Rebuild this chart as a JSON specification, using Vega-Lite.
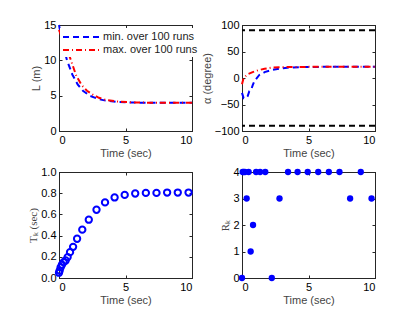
{
  "$schema": "https://vega.github.io/schema/vega-lite/v6.json",
  "padding": {"left": 27, "top": 18, "right": 5, "bottom": 5},
  "background": "white",
  "columns": 2,
  "spacing": {"row": 41, "column": 50},
  "bounds": "flush",
  "resolve": {"scale": {"color": "independent", "strokeDash": "independent"}, "legend": {"color": "independent", "strokeDash": "independent"}},
  "datasets": {
    "L": [
      {"t": 0, "v": 15, "s": "min. over 100 runs"},
      {"t": 0.15, "v": 13.5, "s": "min. over 100 runs"},
      {"t": 0.35, "v": 11.8, "s": "min. over 100 runs"},
      {"t": 0.6, "v": 10, "s": "min. over 100 runs"},
      {"t": 1.0, "v": 8.0, "s": "min. over 100 runs"},
      {"t": 1.4, "v": 6.6, "s": "min. over 100 runs"},
      {"t": 1.8, "v": 5.7, "s": "min. over 100 runs"},
      {"t": 2.3, "v": 5.0, "s": "min. over 100 runs"},
      {"t": 3.0, "v": 4.5, "s": "min. over 100 runs"},
      {"t": 3.5, "v": 4.3, "s": "min. over 100 runs"},
      {"t": 4.5, "v": 4.1, "s": "min. over 100 runs"},
      {"t": 5.5, "v": 4.02, "s": "min. over 100 runs"},
      {"t": 7, "v": 4.0, "s": "min. over 100 runs"},
      {"t": 10, "v": 4.0, "s": "min. over 100 runs"},
      {"t": 0, "v": 14.3, "s": "max. over 100 runs"},
      {"t": 0.2, "v": 13.3, "s": "max. over 100 runs"},
      {"t": 0.4, "v": 12.6, "s": "max. over 100 runs"},
      {"t": 0.9, "v": 10, "s": "max. over 100 runs"},
      {"t": 1.3, "v": 7.8, "s": "max. over 100 runs"},
      {"t": 1.7, "v": 6.5, "s": "max. over 100 runs"},
      {"t": 2.1, "v": 5.7, "s": "max. over 100 runs"},
      {"t": 2.5, "v": 5.2, "s": "max. over 100 runs"},
      {"t": 3.0, "v": 4.7, "s": "max. over 100 runs"},
      {"t": 3.5, "v": 4.4, "s": "max. over 100 runs"},
      {"t": 4.5, "v": 4.15, "s": "max. over 100 runs"},
      {"t": 5.5, "v": 4.05, "s": "max. over 100 runs"},
      {"t": 7, "v": 4.0, "s": "max. over 100 runs"},
      {"t": 10, "v": 4.0, "s": "max. over 100 runs"}
    ],
    "A": [
      {"t": 0, "v": -28, "s": "min"},
      {"t": 0.12, "v": -38, "s": "min"},
      {"t": 0.3, "v": -38, "s": "min"},
      {"t": 0.43, "v": -34, "s": "min"},
      {"t": 0.55, "v": -25, "s": "min"},
      {"t": 0.68, "v": -23, "s": "min"},
      {"t": 0.8, "v": -14, "s": "min"},
      {"t": 0.93, "v": -6, "s": "min"},
      {"t": 1.3, "v": 5.7, "s": "min"},
      {"t": 1.7, "v": 11, "s": "min"},
      {"t": 2.2, "v": 15, "s": "min"},
      {"t": 2.8, "v": 17.5, "s": "min"},
      {"t": 3.4, "v": 19.5, "s": "min"},
      {"t": 4.5, "v": 20.5, "s": "min"},
      {"t": 6, "v": 21, "s": "min"},
      {"t": 10, "v": 21, "s": "min"},
      {"t": 0, "v": -12, "s": "max"},
      {"t": 0.12, "v": 0, "s": "max"},
      {"t": 0.43, "v": 7, "s": "max"},
      {"t": 0.8, "v": 11, "s": "max"},
      {"t": 1.2, "v": 14.5, "s": "max"},
      {"t": 1.7, "v": 17.5, "s": "max"},
      {"t": 2.2, "v": 19.5, "s": "max"},
      {"t": 3, "v": 20.5, "s": "max"},
      {"t": 5, "v": 21, "s": "max"},
      {"t": 10, "v": 21, "s": "max"}
    ],
    "B": [{"bound": 90}, {"bound": -90}],
    "K": [
      {"t": 0, "T": 0.05, "R": 0},
      {"t": 0.05, "T": 0.07, "R": 4},
      {"t": 0.12, "T": 0.1, "R": 4},
      {"t": 0.22, "T": 0.125, "R": 4},
      {"t": 0.35, "T": 0.15, "R": 3},
      {"t": 0.5, "T": 0.165, "R": 4},
      {"t": 0.65, "T": 0.197, "R": 1},
      {"t": 0.83, "T": 0.244, "R": 2},
      {"t": 1.06, "T": 0.294, "R": 4},
      {"t": 1.36, "T": 0.37, "R": 4},
      {"t": 1.75, "T": 0.456, "R": 4},
      {"t": 2.24, "T": 0.55, "R": 0},
      {"t": 2.82, "T": 0.644, "R": 3},
      {"t": 3.46, "T": 0.713, "R": 4},
      {"t": 4.18, "T": 0.76, "R": 4},
      {"t": 4.94, "T": 0.784, "R": 4},
      {"t": 5.73, "T": 0.797, "R": 4},
      {"t": 6.53, "T": 0.803, "R": 4},
      {"t": 7.33, "T": 0.803, "R": 4},
      {"t": 8.13, "T": 0.806, "R": 3},
      {"t": 8.93, "T": 0.806, "R": 4},
      {"t": 9.74, "T": 0.806, "R": 3}
    ]
  },
  "concat": [
    {
      "width": 133, "height": 106,
      "data": {"name": "L"},
      "resolve": {"axis": {"x": "independent", "y": "independent"}},
      "layer": [
        {
          "mark": {"type": "line", "strokeWidth": 2},
          "encoding": {
            "x": {"field": "t", "type": "quantitative", "title": "Time (sec)", "scale": {"domain": [0, 10], "nice": false}, "axis": {"orient": "bottom", "values": [0, 5, 10]}},
            "y": {"field": "v", "type": "quantitative", "title": "L (m)", "scale": {"domain": [0, 15], "nice": false}, "axis": {"orient": "left", "values": [0, 5, 10, 15]}},
            "color": {"field": "s", "type": "nominal", "scale": {"domain": ["min. over 100 runs", "max. over 100 runs"], "range": ["#0000ff", "#ff0000"]}, "legend": {"title": null, "orient": "none", "legendX": 1, "legendY": 3}},
            "strokeDash": {"field": "s", "type": "nominal", "scale": {"domain": ["min. over 100 runs", "max. over 100 runs"], "range": [[6, 4], [6, 3, 1, 3]]}, "legend": {"title": null, "orient": "none", "legendX": 1, "legendY": 3}}
          }
        },
        {
          "mark": {"type": "point", "opacity": 0},
          "encoding": {
            "x": {"field": "t", "type": "quantitative", "axis": {"orient": "top", "values": [0, 5, 10], "labels": false, "title": null}},
            "y": {"field": "v", "type": "quantitative", "axis": {"orient": "right", "values": [0, 5, 10, 15], "labels": false, "title": null}}
          }
        }
      ]
    },
    {
      "width": 133, "height": 106,
      "resolve": {"axis": {"x": "independent", "y": "independent"}},
      "layer": [
        {
          "data": {"name": "A"},
          "mark": {"type": "line", "strokeWidth": 2},
          "encoding": {
            "x": {"field": "t", "type": "quantitative", "title": "Time (sec)", "scale": {"domain": [0, 10], "nice": false}, "axis": {"orient": "bottom", "values": [0, 5, 10]}},
            "y": {"field": "v", "type": "quantitative", "title": "α (degree)", "scale": {"domain": [-100, 100], "nice": false}, "axis": {"orient": "left", "values": [-100, -50, 0, 50, 100]}},
            "color": {"field": "s", "type": "nominal", "scale": {"domain": ["min", "max"], "range": ["#0000ff", "#ff0000"]}, "legend": null},
            "strokeDash": {"field": "s", "type": "nominal", "scale": {"domain": ["min", "max"], "range": [[6, 4], [6, 3, 1, 3]]}, "legend": null}
          }
        },
        {
          "data": {"name": "B"},
          "mark": {"type": "rule", "color": "black", "strokeWidth": 2, "strokeDash": [6, 4]},
          "encoding": {"y": {"field": "bound", "type": "quantitative", "axis": null}}
        },
        {
          "data": {"name": "A"},
          "mark": {"type": "point", "opacity": 0},
          "encoding": {
            "x": {"field": "t", "type": "quantitative", "axis": {"orient": "top", "values": [0, 5, 10], "labels": false, "title": null}},
            "y": {"field": "v", "type": "quantitative", "axis": {"orient": "right", "values": [-100, -50, 0, 50, 100], "labels": false, "title": null}}
          }
        }
      ]
    },
    {
      "width": 133, "height": 106,
      "data": {"name": "K"},
      "resolve": {"axis": {"x": "independent", "y": "independent"}},
      "layer": [
        {
          "mark": {"type": "point", "filled": false, "color": "#0000ff", "strokeWidth": 2, "size": 40, "opacity": 1},
          "encoding": {
            "x": {"field": "t", "type": "quantitative", "title": "Time (sec)", "scale": {"domain": [0, 10], "nice": false}, "axis": {"orient": "bottom", "values": [0, 5, 10]}},
            "y": {"field": "T", "type": "quantitative", "title": "Tₖ (sec)", "scale": {"domain": [0, 1], "nice": false}, "axis": {"orient": "left", "values": [0, 0.2, 0.4, 0.6, 0.8, 1], "titleFont": "Liberation Serif"}}
          }
        },
        {
          "mark": {"type": "point", "opacity": 0},
          "encoding": {
            "x": {"field": "t", "type": "quantitative", "axis": {"orient": "top", "values": [0, 5, 10], "labels": false, "title": null}},
            "y": {"field": "T", "type": "quantitative", "axis": {"orient": "right", "values": [0, 0.2, 0.4, 0.6, 0.8, 1], "labels": false, "title": null}}
          }
        }
      ]
    },
    {
      "width": 133, "height": 106,
      "data": {"name": "K"},
      "resolve": {"axis": {"x": "independent", "y": "independent"}},
      "layer": [
        {
          "mark": {"type": "point", "filled": true, "color": "#0000ff", "size": 40, "opacity": 1},
          "encoding": {
            "x": {"field": "t", "type": "quantitative", "title": "Time (sec)", "scale": {"domain": [0, 10], "nice": false}, "axis": {"orient": "bottom", "values": [0, 5, 10]}},
            "y": {"field": "R", "type": "quantitative", "title": "Rₖ", "scale": {"domain": [0, 4], "nice": false}, "axis": {"orient": "left", "values": [0, 1, 2, 3, 4], "titleFont": "Liberation Serif"}}
          }
        },
        {
          "mark": {"type": "point", "opacity": 0},
          "encoding": {
            "x": {"field": "t", "type": "quantitative", "axis": {"orient": "top", "values": [0, 5, 10], "labels": false, "title": null}},
            "y": {"field": "R", "type": "quantitative", "axis": {"orient": "right", "values": [0, 1, 2, 3, 4], "labels": false, "title": null}}
          }
        }
      ]
    }
  ],
  "config": {
    "view": {"stroke": "#262626", "strokeWidth": 1},
    "axis": {
      "grid": false,
      "domainColor": "#262626",
      "tickColor": "#262626",
      "tickSize": -3,
      "labelFont": "Liberation Sans",
      "labelFontSize": 11,
      "labelColor": "#000",
      "labelPadding": 6,
      "titleFont": "Liberation Sans",
      "titleFontSize": 11,
      "titleFontWeight": "normal",
      "titleColor": "#444",
      "titlePadding": 2
    },
    "legend": {
      "labelFont": "Liberation Sans",
      "labelFontSize": 11,
      "labelColor": "#222",
      "symbolType": "M-1,0H5",
      "symbolSize": 144,
      "symbolStrokeWidth": 2,
      "labelOffset": 27,
      "rowPadding": 1,
      "fillColor": "white",
      "padding": 2
    }
  }
}
